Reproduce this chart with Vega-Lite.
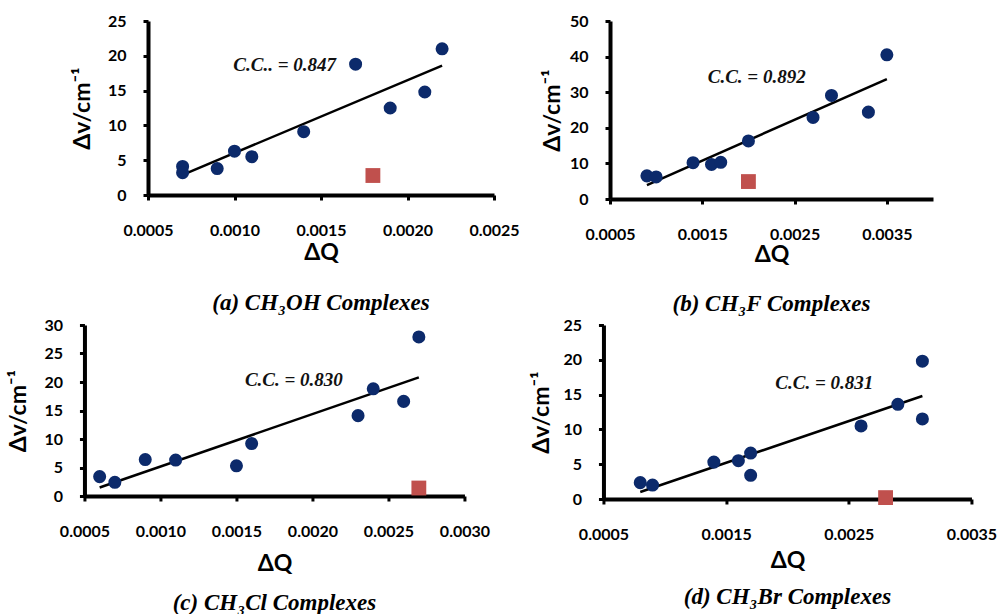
{
  "$schema": "https://vega.github.io/schema/vega-lite/v6.json",
  "background": "white",
  "padding": {"left": 7, "top": 13, "right": 0, "bottom": 0},
  "spacing": 1,
  "center": true,
  "datasets": {
    "pts": [
      {"panel": "a", "dq": 0.0007, "dv": 4.1, "kind": "complex"},
      {"panel": "a", "dq": 0.0007, "dv": 3.2, "kind": "complex"},
      {"panel": "a", "dq": 0.0009, "dv": 3.8, "kind": "complex"},
      {"panel": "a", "dq": 0.0010, "dv": 6.3, "kind": "complex"},
      {"panel": "a", "dq": 0.0011, "dv": 5.5, "kind": "complex"},
      {"panel": "a", "dq": 0.0014, "dv": 9.1, "kind": "complex"},
      {"panel": "a", "dq": 0.0017, "dv": 18.8, "kind": "complex"},
      {"panel": "a", "dq": 0.0019, "dv": 12.5, "kind": "complex"},
      {"panel": "a", "dq": 0.0021, "dv": 14.8, "kind": "complex"},
      {"panel": "a", "dq": 0.0022, "dv": 21.0, "kind": "complex"},
      {"panel": "a", "dq": 0.0018, "dv": 2.8, "kind": "outlier"},
      {"panel": "b", "dq": 0.0009, "dv": 6.5, "kind": "complex"},
      {"panel": "b", "dq": 0.0010, "dv": 6.2, "kind": "complex"},
      {"panel": "b", "dq": 0.0014, "dv": 10.2, "kind": "complex"},
      {"panel": "b", "dq": 0.0016, "dv": 9.7, "kind": "complex"},
      {"panel": "b", "dq": 0.0017, "dv": 10.3, "kind": "complex"},
      {"panel": "b", "dq": 0.0020, "dv": 16.3, "kind": "complex"},
      {"panel": "b", "dq": 0.0027, "dv": 22.9, "kind": "complex"},
      {"panel": "b", "dq": 0.0029, "dv": 29.1, "kind": "complex"},
      {"panel": "b", "dq": 0.0033, "dv": 24.4, "kind": "complex"},
      {"panel": "b", "dq": 0.0035, "dv": 40.5, "kind": "complex"},
      {"panel": "b", "dq": 0.0020, "dv": 4.9, "kind": "outlier"},
      {"panel": "c", "dq": 0.0006, "dv": 3.4, "kind": "complex"},
      {"panel": "c", "dq": 0.0007, "dv": 2.4, "kind": "complex"},
      {"panel": "c", "dq": 0.0009, "dv": 6.4, "kind": "complex"},
      {"panel": "c", "dq": 0.0011, "dv": 6.3, "kind": "complex"},
      {"panel": "c", "dq": 0.0015, "dv": 5.3, "kind": "complex"},
      {"panel": "c", "dq": 0.0016, "dv": 9.2, "kind": "complex"},
      {"panel": "c", "dq": 0.0023, "dv": 14.1, "kind": "complex"},
      {"panel": "c", "dq": 0.0024, "dv": 18.8, "kind": "complex"},
      {"panel": "c", "dq": 0.0026, "dv": 16.6, "kind": "complex"},
      {"panel": "c", "dq": 0.0027, "dv": 27.9, "kind": "complex"},
      {"panel": "c", "dq": 0.0027, "dv": 1.4, "kind": "outlier"},
      {"panel": "d", "dq": 0.0008, "dv": 2.35, "kind": "complex"},
      {"panel": "d", "dq": 0.0009, "dv": 2.0, "kind": "complex"},
      {"panel": "d", "dq": 0.0014, "dv": 5.3, "kind": "complex"},
      {"panel": "d", "dq": 0.0016, "dv": 5.5, "kind": "complex"},
      {"panel": "d", "dq": 0.0017, "dv": 6.6, "kind": "complex"},
      {"panel": "d", "dq": 0.0017, "dv": 3.4, "kind": "complex"},
      {"panel": "d", "dq": 0.0026, "dv": 10.5, "kind": "complex"},
      {"panel": "d", "dq": 0.0029, "dv": 13.6, "kind": "complex"},
      {"panel": "d", "dq": 0.0031, "dv": 19.8, "kind": "complex"},
      {"panel": "d", "dq": 0.0031, "dv": 11.5, "kind": "complex"},
      {"panel": "d", "dq": 0.0028, "dv": 0.2, "kind": "outlier"}
    ],
    "fits": [
      {"panel": "a", "dq": 0.0007, "dv": 2.9},
      {"panel": "a", "dq": 0.0022, "dv": 18.6},
      {"panel": "b", "dq": 0.0009, "dv": 3.9},
      {"panel": "b", "dq": 0.0035, "dv": 33.7},
      {"panel": "c", "dq": 0.0006, "dv": 1.5},
      {"panel": "c", "dq": 0.0027, "dv": 20.8},
      {"panel": "d", "dq": 0.0008, "dv": 1.0},
      {"panel": "d", "dq": 0.0031, "dv": 14.8}
    ],
    "cc": [
      {"panel": "a", "dq": 0.00129, "dv": 18.7, "label": "C.C.. = 0.847"},
      {"panel": "b", "dq": 0.00209, "dv": 34.2, "label": "C.C. = 0.892"},
      {"panel": "c", "dq": 0.001878, "dv": 20.35, "label": "C.C. = 0.830"},
      {"panel": "d", "dq": 0.0023, "dv": 16.7, "label": "C.C. = 0.831"}
    ]
  },
  "vconcat": [
    {
      "spacing": 21,
      "hconcat": [
        {
          "width": 346, "height": 174,
          "title": {"text": "(a) CH₃OH Complexes", "orient": "bottom", "offset": 28},
          "encoding": {
            "x": {"field": "dq", "type": "quantitative", "scale": {"domain": [0.0005, 0.0025], "nice": false, "zero": false},
                  "axis": {"values": [0.0005, 0.001, 0.0015, 0.002, 0.0025], "format": ".4f", "title": "ΔQ", "titlePadding": 3}},
            "y": {"field": "dv", "type": "quantitative", "scale": {"domain": [0, 25], "nice": false},
                  "axis": {"values": [0, 5, 10, 15, 20, 25], "title": "Δv/cm⁻¹", "titleX": -66}}
          },
          "layer": [
            {"data": {"name": "fits"}, "transform": [{"filter": "datum.panel === 'a'"}], "mark": {"type": "line", "color": "black", "strokeWidth": 2.5}, "encoding": {}},
            {"data": {"name": "pts"}, "transform": [{"filter": "datum.panel === 'a'"}], "mark": {"type": "point", "filled": true, "opacity": 1},
             "encoding": {
               "shape": {"field": "kind", "type": "nominal", "scale": {"domain": ["complex", "outlier"], "range": ["circle", "square"]}, "legend": null},
               "color": {"field": "kind", "type": "nominal", "scale": {"domain": ["complex", "outlier"], "range": ["#0c2a6b", "#c0504d"]}, "legend": null},
               "size": {"field": "kind", "type": "nominal", "scale": {"domain": ["complex", "outlier"], "range": [170, 220]}, "legend": null}
             }},
            {"data": {"name": "cc"}, "transform": [{"filter": "datum.panel === 'a'"}], "mark": {"type": "text", "font": "Liberation Serif", "fontStyle": "italic", "fontWeight": "bold", "fontSize": 19, "color": "#111"},
             "encoding": {"text": {"field": "label"}}}
          ]
        },
        {
          "width": 323, "height": 178,
          "title": {"text": "(b) CH₃F Complexes", "orient": "bottom", "offset": 27},
          "encoding": {
            "x": {"field": "dq", "type": "quantitative", "scale": {"domain": [0.0005, 0.004], "nice": false, "zero": false},
                  "axis": {"values": [0.0005, 0.0015, 0.0025, 0.0035], "format": ".4f", "title": "ΔQ", "titlePadding": 1}},
            "y": {"field": "dv", "type": "quantitative", "scale": {"domain": [0, 50], "nice": false},
                  "axis": {"values": [0, 10, 20, 30, 40, 50], "title": "Δv/cm⁻¹", "titleX": -58}}
          },
          "layer": [
            {"data": {"name": "fits"}, "transform": [{"filter": "datum.panel === 'b'"}], "mark": {"type": "line", "color": "black", "strokeWidth": 2.5}, "encoding": {}},
            {"data": {"name": "pts"}, "transform": [{"filter": "datum.panel === 'b'"}], "mark": {"type": "point", "filled": true, "opacity": 1},
             "encoding": {
               "shape": {"field": "kind", "type": "nominal", "scale": {"domain": ["complex", "outlier"], "range": ["circle", "square"]}, "legend": null},
               "color": {"field": "kind", "type": "nominal", "scale": {"domain": ["complex", "outlier"], "range": ["#0c2a6b", "#c0504d"]}, "legend": null},
               "size": {"field": "kind", "type": "nominal", "scale": {"domain": ["complex", "outlier"], "range": [170, 220]}, "legend": null}
             }},
            {"data": {"name": "cc"}, "transform": [{"filter": "datum.panel === 'b'"}], "mark": {"type": "text", "font": "Liberation Serif", "fontStyle": "italic", "fontWeight": "bold", "fontSize": 19, "color": "#111"},
             "encoding": {"text": {"field": "label"}}}
          ]
        }
      ]
    },
    {
      "spacing": 40,
      "hconcat": [
        {
          "width": 380, "height": 171,
          "title": {"text": "(c) CH₃Cl Complexes", "orient": "bottom", "offset": 17},
          "encoding": {
            "x": {"field": "dq", "type": "quantitative", "scale": {"domain": [0.0005, 0.003], "nice": false, "zero": false},
                  "axis": {"values": [0.0005, 0.001, 0.0015, 0.002, 0.0025, 0.003], "format": ".4f", "title": "ΔQ", "titlePadding": 13}},
            "y": {"field": "dv", "type": "quantitative", "scale": {"domain": [0, 30], "nice": false},
                  "axis": {"values": [0, 5, 10, 15, 20, 25, 30], "title": "Δv/cm⁻¹", "titleX": -66}}
          },
          "layer": [
            {"data": {"name": "fits"}, "transform": [{"filter": "datum.panel === 'c'"}], "mark": {"type": "line", "color": "black", "strokeWidth": 2.5}, "encoding": {}},
            {"data": {"name": "pts"}, "transform": [{"filter": "datum.panel === 'c'"}], "mark": {"type": "point", "filled": true, "opacity": 1},
             "encoding": {
               "shape": {"field": "kind", "type": "nominal", "scale": {"domain": ["complex", "outlier"], "range": ["circle", "square"]}, "legend": null},
               "color": {"field": "kind", "type": "nominal", "scale": {"domain": ["complex", "outlier"], "range": ["#0c2a6b", "#c0504d"]}, "legend": null},
               "size": {"field": "kind", "type": "nominal", "scale": {"domain": ["complex", "outlier"], "range": [170, 220]}, "legend": null}
             }},
            {"data": {"name": "cc"}, "transform": [{"filter": "datum.panel === 'c'"}], "mark": {"type": "text", "font": "Liberation Serif", "fontStyle": "italic", "fontWeight": "bold", "fontSize": 19, "color": "#111"},
             "encoding": {"text": {"field": "label"}}}
          ]
        },
        {
          "width": 368, "height": 174,
          "title": {"text": "(d) CH₃Br Complexes", "orient": "bottom", "offset": 14},
          "encoding": {
            "x": {"field": "dq", "type": "quantitative", "scale": {"domain": [0.0005, 0.0035], "nice": false, "zero": false},
                  "axis": {"values": [0.0005, 0.0015, 0.0025, 0.0035], "format": ".4f", "title": "ΔQ", "titlePadding": 7}},
            "y": {"field": "dv", "type": "quantitative", "scale": {"domain": [0, 25], "nice": false},
                  "axis": {"values": [0, 5, 10, 15, 20, 25], "title": "Δv/cm⁻¹", "titleX": -62}}
          },
          "layer": [
            {"data": {"name": "fits"}, "transform": [{"filter": "datum.panel === 'd'"}], "mark": {"type": "line", "color": "black", "strokeWidth": 2.5}, "encoding": {}},
            {"data": {"name": "pts"}, "transform": [{"filter": "datum.panel === 'd'"}], "mark": {"type": "point", "filled": true, "opacity": 1},
             "encoding": {
               "shape": {"field": "kind", "type": "nominal", "scale": {"domain": ["complex", "outlier"], "range": ["circle", "square"]}, "legend": null},
               "color": {"field": "kind", "type": "nominal", "scale": {"domain": ["complex", "outlier"], "range": ["#0c2a6b", "#c0504d"]}, "legend": null},
               "size": {"field": "kind", "type": "nominal", "scale": {"domain": ["complex", "outlier"], "range": [170, 220]}, "legend": null}
             }},
            {"data": {"name": "cc"}, "transform": [{"filter": "datum.panel === 'd'"}], "mark": {"type": "text", "font": "Liberation Serif", "fontStyle": "italic", "fontWeight": "bold", "fontSize": 19, "color": "#111"},
             "encoding": {"text": {"field": "label"}}}
          ]
        }
      ]
    }
  ],
  "config": {
    "view": {"stroke": null},
    "axis": {
      "grid": false,
      "domainColor": "black", "domainWidth": 4,
      "tickColor": "black", "tickWidth": 3, "tickSize": 5,
      "labelFont": "Lato", "labelFontWeight": "bold", "labelFontSize": 16, "labelColor": "black",
      "labelFlush": false, "labelOverlap": false,
      "titleFont": "Lato", "titleFontWeight": "bold", "titleFontSize": 23, "titleColor": "black"
    },
    "axisX": {"labelPadding": 22},
    "axisY": {"labelPadding": 17, "titleBaseline": "middle"},
    "title": {"font": "Liberation Serif", "fontStyle": "italic", "fontWeight": "bold", "fontSize": 23, "color": "black"}
  }
}
